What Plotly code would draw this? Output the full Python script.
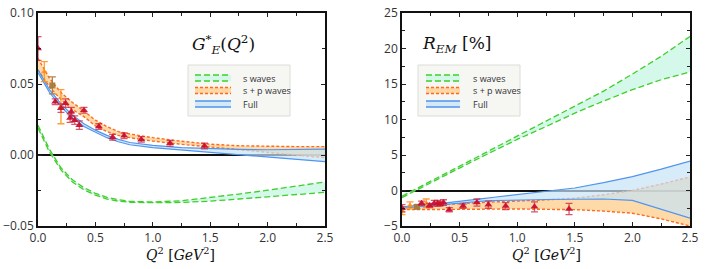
import plotly.graph_objects as go

W, H = 706, 269

# ---------------- data: left panel G_E*(Q^2) ----------------
q_band = [0.0, 0.1, 0.2, 0.3, 0.4, 0.5, 0.6, 0.7, 0.8, 1.0, 1.25, 1.5, 1.75, 2.0, 2.25, 2.5]

ge_s_up = [0.021, 0.004, -0.009, -0.0175, -0.023, -0.027, -0.0298, -0.0315, -0.0326, -0.0331, -0.0322, -0.030, -0.0275, -0.0248, -0.022, -0.019]
ge_s_lo = [0.019, 0.002, -0.0105, -0.019, -0.0245, -0.0283, -0.031, -0.0325, -0.0333, -0.0336, -0.0334, -0.0325, -0.031, -0.0295, -0.028, -0.0263]

ge_sp_up = [0.068, 0.054, 0.044, 0.037, 0.031, 0.0245, 0.020, 0.0165, 0.0148, 0.0122, 0.0097, 0.0076, 0.0065, 0.0060, 0.0059, 0.0059]
ge_sp_lo = [0.060, 0.048, 0.039, 0.032, 0.027, 0.0205, 0.0165, 0.0138, 0.0122, 0.0098, 0.0075, 0.0057, 0.0038, 0.0019, 0.0000, -0.0019]

ge_full_up = [0.060, 0.046, 0.036, 0.028, 0.022, 0.0175, 0.0138, 0.0110, 0.0088, 0.0068, 0.0052, 0.0044, 0.0039, 0.0037, 0.0039, 0.0042]
ge_full_lo = [0.058, 0.044, 0.034, 0.026, 0.020, 0.0158, 0.0122, 0.0093, 0.0072, 0.0052, 0.0035, 0.0016, 0.0000, -0.0018, -0.0033, -0.0047]

ge_red_q = [0.0, 0.15, 0.20, 0.24, 0.28, 0.29, 0.32, 0.36, 0.40, 0.53, 0.65, 0.75, 0.90, 1.15, 1.45]
ge_red_v = [0.075, 0.0375, 0.033, 0.0365, 0.026, 0.0305, 0.0245, 0.021, 0.0315, 0.020, 0.0125, 0.0135, 0.011, 0.0082, 0.0063]
ge_red_e = [0.0083, 0.002, 0.003, 0.003, 0.003, 0.003, 0.003, 0.003, 0.002, 0.002, 0.002, 0.002, 0.002, 0.002, 0.002]

ge_or_q = [0.055, 0.20]
ge_or_v = [0.0587, 0.034]
ge_or_e = [0.007, 0.012]

ge_br_q = [0.125]
ge_br_v = [0.049]
ge_br_e = [0.006]

# ---------------- data: right panel R_EM [%] ----------------
rem_s_up = [-0.8, 0.05, 0.9, 1.7, 2.55, 3.4, 4.25, 5.1, 5.95, 7.6, 9.7, 11.9, 14.0, 16.4, 18.9, 21.7]
rem_s_lo = [-1.0, -0.15, 0.7, 1.5, 2.35, 3.2, 4.0, 4.8, 5.6, 7.2, 9.0, 10.9, 12.6, 14.2, 15.6, 16.7]

rem_sp_up = [-2.3, -2.25, -2.15, -2.05, -1.95, -1.85, -1.75, -1.65, -1.6, -1.5, -1.35, -1.1, -0.6, 0.0, 0.9, 1.9]
rem_sp_lo = [-2.7, -2.68, -2.66, -2.64, -2.62, -2.6, -2.6, -2.6, -2.6, -2.6, -2.65, -2.7, -2.9, -3.2, -4.0, -5.0]

rem_full_up = [-2.3, -2.2, -2.05, -1.9, -1.7, -1.55, -1.35, -1.15, -0.95, -0.6, -0.15, 0.35, 1.1, 1.95, 3.0, 4.15]
rem_full_lo = [-2.5, -2.35, -2.2, -2.05, -1.9, -1.75, -1.62, -1.5, -1.42, -1.33, -1.27, -1.23, -1.2, -1.4, -2.6, -3.9]

rem_red_q = [0.0, 0.17, 0.24, 0.28, 0.31, 0.33, 0.36, 0.41, 0.53, 0.65, 0.75, 0.90, 1.15, 1.45]
rem_red_v = [-2.5, -1.8, -2.1, -1.8, -1.8, -1.9, -1.7, -2.7, -2.2, -1.7, -2.0, -2.2, -2.3, -2.6]
rem_red_e = [0.5, 0.3, 0.3, 0.4, 0.4, 0.3, 0.4, 0.3, 0.3, 0.5, 0.5, 0.5, 0.7, 0.8]

rem_or_q = [0.0, 0.07, 0.21]
rem_or_v = [-2.9, -2.1, -1.8]
rem_or_e = [0.5, 0.5, 0.6]

rem_br_q = [0.13]
rem_br_v = [-2.3]
rem_br_e = [0.3]

legend_labels = ["s waves", "s + p waves", "Full"]

# ---------------- styles ----------------
GREEN = "#3fcf2a"
GREEN_FILL = "rgba(205,248,232,0.85)"
ORANGE = "#ff6a1e"
ORANGE_FILL = "rgba(255,205,140,0.75)"
BLUE = "#4f95ef"
BLUE_FILL = "rgba(200,226,245,0.70)"
RED = "rgba(200,16,46,0.95)"
RED_ERR = "rgba(205,30,60,0.75)"
ORANGE_PT = "rgba(255,140,20,0.85)"
BROWN_PT = "rgba(165,120,60,0.9)"
GREEN_DASH = "6px,3px"
ORANGE_DASH = "3px,2px"

fig = go.Figure()


def band(xa, ya, lo, up, line_color, fill, dash, width=1.3):
    fig.add_trace(go.Scatter(x=q_band, y=lo, mode="lines", xaxis=xa, yaxis=ya,
                             line=dict(color=line_color, width=width, dash=dash),
                             hoverinfo="skip", showlegend=False))
    fig.add_trace(go.Scatter(x=q_band, y=up, mode="lines", xaxis=xa, yaxis=ya, fill="tonexty",
                             fillcolor=fill,
                             line=dict(color=line_color, width=width, dash=dash),
                             hoverinfo="skip", showlegend=False))


def points(xa, ya, q, v, e, color, ecolor, symbol, size):
    fig.add_trace(go.Scatter(x=q, y=v, mode="markers", xaxis=xa, yaxis=ya,
                             marker=dict(symbol=symbol, size=size, color=color),
                             error_y=dict(type="data", array=e, color=ecolor, thickness=1.3, width=3.5),
                             hoverinfo="skip", showlegend=False))


for xa, ya, sets in [
    ("x", "y", (ge_s_lo, ge_s_up, ge_sp_lo, ge_sp_up, ge_full_lo, ge_full_up)),
    ("x2", "y2", (rem_s_lo, rem_s_up, rem_sp_lo, rem_sp_up, rem_full_lo, rem_full_up)),
]:
    s_lo, s_up, sp_lo, sp_up, f_lo, f_up = sets
    band(xa, ya, s_lo, s_up, GREEN, GREEN_FILL, GREEN_DASH)
    band(xa, ya, sp_lo, sp_up, ORANGE, ORANGE_FILL, ORANGE_DASH, 1.4)
    band(xa, ya, f_lo, f_up, BLUE, BLUE_FILL, "solid", 1.2)

points("x", "y", ge_or_q, ge_or_v, ge_or_e, ORANGE_PT, ORANGE_PT, "triangle-up", 6)
points("x", "y", ge_br_q, ge_br_v, ge_br_e, BROWN_PT, BROWN_PT, "square", 6)
points("x", "y", ge_red_q, ge_red_v, ge_red_e, RED, RED_ERR, "triangle-up", 7)

points("x2", "y2", rem_or_q, rem_or_v, rem_or_e, ORANGE_PT, ORANGE_PT, "triangle-up", 6)
points("x2", "y2", rem_br_q, rem_br_v, rem_br_e, BROWN_PT, BROWN_PT, "square", 6)
points("x2", "y2", rem_red_q, rem_red_v, rem_red_e, RED, RED_ERR, "triangle-up", 7)


def px(x):
    return x / W


def py(y):
    return (H - y) / H


TICKFONT = dict(family="Open Sans, Noto Sans, sans-serif", size=12, color="#333")
common_x = dict(range=[0, 2.5], dtick=0.5, tickformat=".1f", ticks="inside", ticklen=4,
                tickcolor="#222", showline=True, linecolor="#111", linewidth=1.5, mirror="ticks",
                showgrid=False, zeroline=False, tickfont=TICKFONT, automargin=False,
                minor=dict(dtick=0.25, ticks="inside", ticklen=3, tickcolor="#222"))
common_y = dict(ticks="inside", ticklen=4, tickcolor="#222", showline=True, linecolor="#111",
                linewidth=1.5, mirror="ticks", showgrid=False, zeroline=True, zerolinecolor="#111",
                zerolinewidth=1.5, tickfont=TICKFONT, automargin=False)

ydom = [py(226), py(13)]
fig.update_layout(
    width=W, height=H, margin=dict(l=0, r=0, t=0, b=0, pad=0), autosize=False,
    paper_bgcolor="white", plot_bgcolor="white", showlegend=False,
    xaxis=dict(domain=[px(38), px(325)], anchor="y", **common_x),
    yaxis=dict(domain=ydom, anchor="x", range=[-0.05, 0.10], dtick=0.05, tickformat=".2f",
               minor=dict(dtick=0.025, ticks="inside", ticklen=3, tickcolor="#222"), **common_y),
    xaxis2=dict(domain=[px(402), px(690)], anchor="y2", **common_x),
    yaxis2=dict(domain=ydom, anchor="x2", range=[-5, 25], dtick=5,
                minor=dict(dtick=2.5, ticks="inside", ticklen=3, tickcolor="#222"), **common_y),
)

MATHFONT = dict(family="DejaVu Serif, Liberation Serif, serif", color="#111")
ann = []
ann.append(dict(text="<i>G</i><sup>*</sup><sub><i>E</i></sub>(<i>Q</i><sup>2</sup>)", x=px(223), y=py(45),
                font=dict(size=17, **MATHFONT)))
ann.append(dict(text="<i>R</i><sub><i>EM</i></sub> [%]", x=px(457), y=py(45),
                font=dict(size=17, **MATHFONT)))
for cx in (181, 546):
    ann.append(dict(text="<i>Q</i><sup>2</sup> [<i>GeV</i><sup>2</sup>]", x=px(cx), y=py(254),
                    font=dict(size=14, **MATHFONT)))

shapes = []
LEG_FONT = dict(family="Open Sans, Noto Sans, sans-serif", size=9, color="#333")
legend_styles = [(GREEN, GREEN_FILL, GREEN_DASH), (ORANGE, ORANGE_FILL, ORANGE_DASH), (BLUE, BLUE_FILL, "solid")]
row_y = [78, 90.5, 104]
for (bx0, bx1, sx0, sx1, tx) in [(188, 290, 195, 231, 241), (418, 520, 426, 460, 471)]:
    shapes.append(dict(type="rect", xref="paper", yref="paper", x0=px(bx0), x1=px(bx1),
                       y0=py(116), y1=py(65), fillcolor="#f6f6f3", line=dict(color="#dcdcd8", width=1)))
    for (lc, fc, dash), ry, lab in zip(legend_styles, row_y, legend_labels):
        shapes.append(dict(type="rect", xref="paper", yref="paper", x0=px(sx0), x1=px(sx1),
                           y0=py(ry + 3), y1=py(ry - 3), fillcolor=fc, line=dict(width=0)))
        for yy in (ry - 3, ry + 3):
            shapes.append(dict(type="line", xref="paper", yref="paper", x0=px(sx0), x1=px(sx1),
                               y0=py(yy), y1=py(yy), line=dict(color=lc, width=1.3, dash=dash)))
        ann.append(dict(text=lab, x=px(tx), y=py(ry), xanchor="left", font=LEG_FONT))

for a in ann:
    a.setdefault("xanchor", "center")
    a.update(xref="paper", yref="paper", yanchor="middle", showarrow=False)

fig.update_layout(annotations=ann, shapes=shapes)
fig.write_html("out.html", config=dict(displayModeBar=False),
               post_script="document.body.style.margin='0';document.body.style.padding='0';"
                           "document.body.style.overflow='hidden';")
